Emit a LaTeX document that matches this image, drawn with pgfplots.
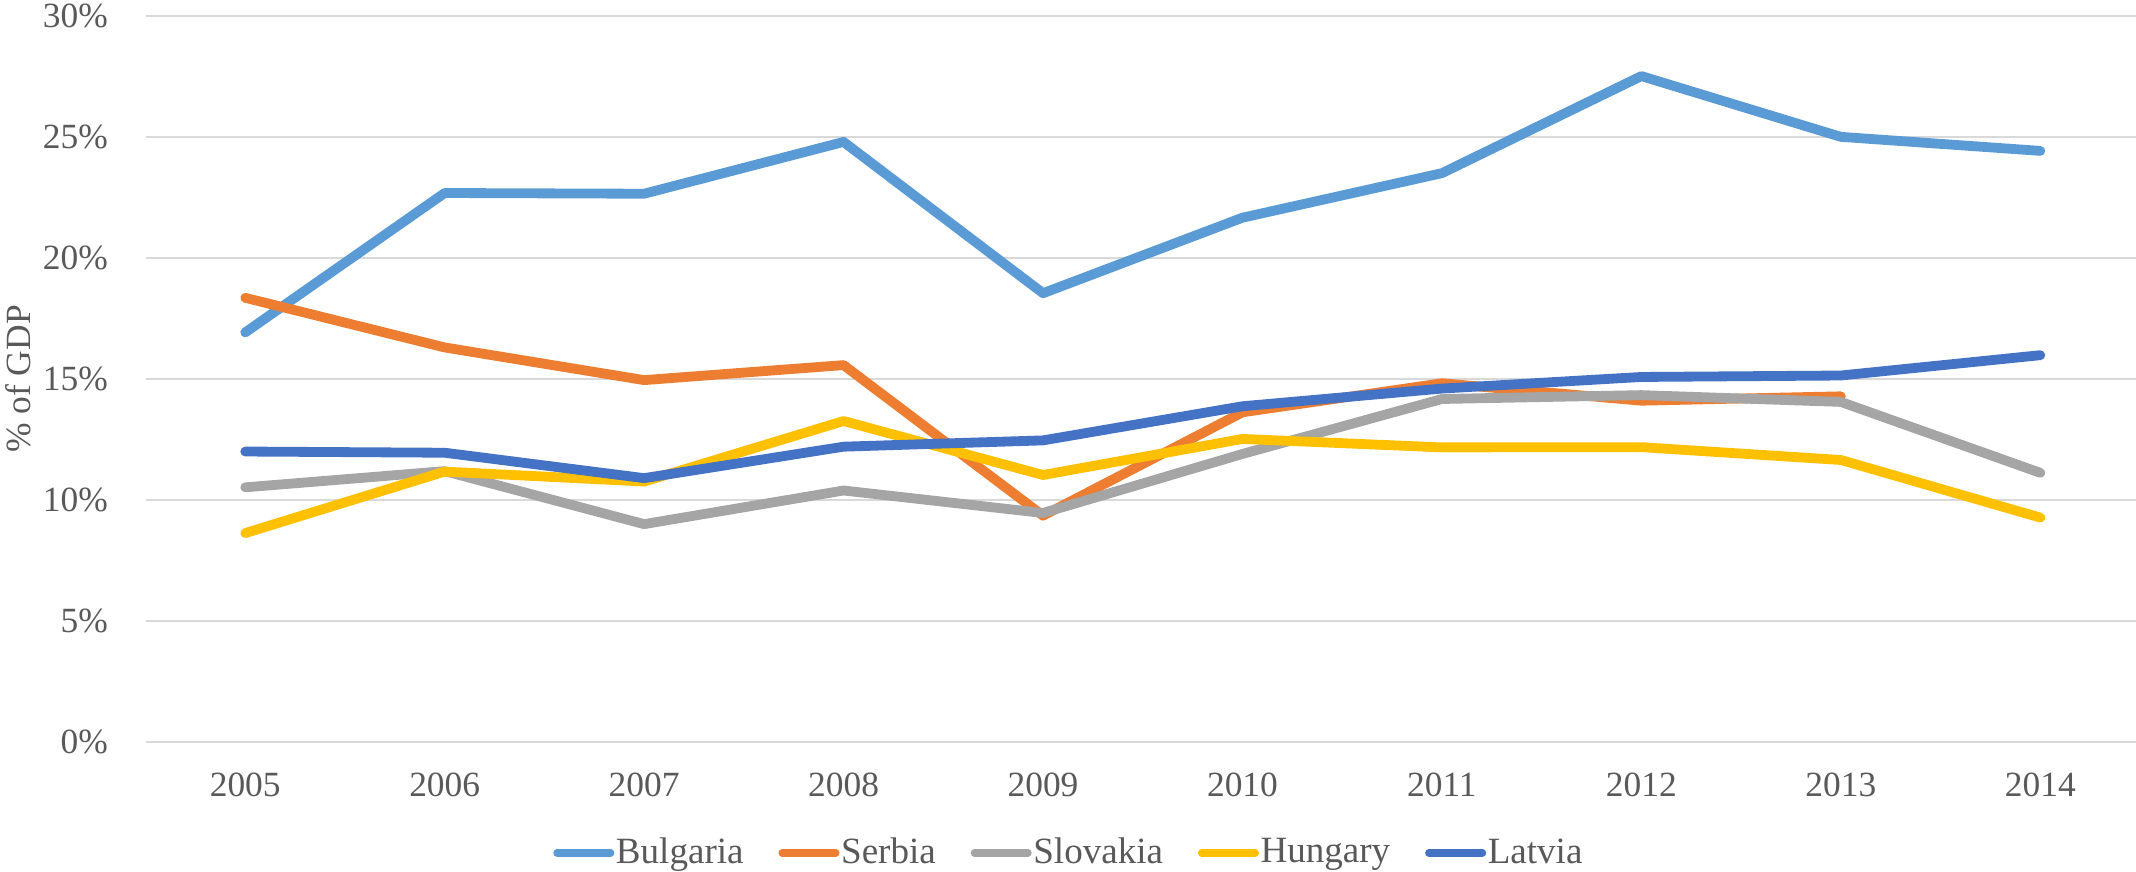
\documentclass[border=0pt]{standalone}
\usepackage{fontspec}
\setmainfont{Liberation Serif}
\usepackage{pgfplots}
\pgfplotsset{compat=1.18}
\definecolor{cBul}{HTML}{5B9BD5}
\definecolor{cSer}{HTML}{ED7D31}
\definecolor{cSlo}{HTML}{A5A5A5}
\definecolor{cHun}{HTML}{FFC000}
\definecolor{cLat}{HTML}{4472C4}
\definecolor{txt}{HTML}{595959}
\definecolor{grd}{HTML}{D9D9D9}
\begin{document}
\begin{tikzpicture}
\useasboundingbox (-53.4pt,-47.5pt) rectangle (730.5pt,272.3pt);
\begin{axis}[
  scale only axis,
  width=730.5pt, height=266.5pt,
  xmin=-0.5, xmax=9.48,
  ymin=0, ymax=30,
  axis line style={draw=none},
  tick style={draw=none},
  ymajorgrids, grid style={grd, line width=0.7pt},
  xtick={0,...,9},
  xticklabels={2005,2006,2007,2008,2009,2010,2011,2012,2013,2014},
  ytick={0,5,...,30},
  yticklabel={\pgfmathprintnumber{\tick}\%},
  /pgf/number format/assume math mode=true,
  every tick label/.append style={font=\fontsize{13}{15}\selectfont, text=txt},
  xticklabel style={anchor=north, inner ysep=0pt, yshift=-11pt},
  yticklabel style={anchor=east, inner xsep=0pt, xshift=-13.6pt},
  ylabel={\% of GDP},
  ylabel style={at={(axis description cs:-0.064,0.5)}, anchor=center, font=\fontsize{13}{15}\selectfont, text=txt},
  clip=false,
  legend columns=-1,
  legend style={at={(axis description cs:0.4638,-0.1527)}, anchor=center, draw=none, fill=none,
    font=\fontsize{13.6}{15}\selectfont, text=txt, inner sep=0pt,
    nodes={inner xsep=0.6pt, inner ysep=0pt},
    /tikz/every even column/.append style={column sep=12.2pt}},
  legend image code/.code={\draw[#1, line width=2.7pt, line cap=round] (1.35pt,0pt) -- (21.05pt,0pt);},
  every axis plot/.append style={line width=3.6pt, line join=round, line cap=round, no markers},
]
\addplot[cBul] coordinates {(0,16.92) (1,22.68) (2,22.65) (3,24.79) (4,18.54) (5,21.66) (6,23.5) (7,27.51) (8,25.0) (9,24.42)};
\addlegendentry{Bulgaria}
\addplot[cSer] coordinates {(0,18.35) (1,16.30) (2,14.95) (3,15.57) (4,9.35) (5,13.62) (6,14.82) (7,14.1) (8,14.28)};
\addlegendentry{Serbia}
\addplot[cSlo] coordinates {(0,10.52) (1,11.19) (2,9.0) (3,10.39) (4,9.46) (5,11.9) (6,14.17) (7,14.33) (8,14.05) (9,11.12)};
\addlegendentry{Slovakia}
\addplot[cHun] coordinates {(0,8.63) (1,11.17) (2,10.76) (3,13.26) (4,11.03) (5,12.52) (6,12.17) (7,12.18) (8,11.65) (9,9.27)};
\addlegendentry{Hungary}
\addplot[cLat] coordinates {(0,12.0) (1,11.95) (2,10.9) (3,12.2) (4,12.46) (5,13.87) (6,14.6) (7,15.08) (8,15.14) (9,15.98)};
\addlegendentry{Latvia}
\end{axis}
\end{tikzpicture}
\end{document}
